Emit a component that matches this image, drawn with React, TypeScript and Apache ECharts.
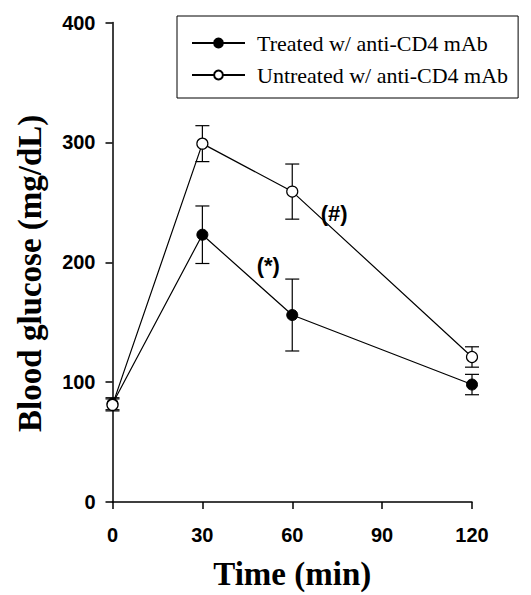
import React, { useEffect, useRef } from "react";
import * as echarts from "echarts";

const timePoints = [0, 30, 60, 120];
const treatedMean = [82, 223, 156, 98];
const treatedErr = [5, 24, 30, 8.5];
const untreatedMean = [81, 299, 259, 121];
const untreatedErr = [5, 15, 23, 8.5];
const seriesNames = ["Treated w/ anti-CD4 mAb", "Untreated w/ anti-CD4 mAb"];
const annotationX = [52, 74];
const annotationY = [197, 241];
const annotationText = ["(*)", "(#)"];
const xTicks = [0, 30, 60, 90, 120];
const yTicks = [0, 100, 200, 300, 400];

const SANS = "'Liberation Sans', Arial, sans-serif";
const SERIF = "'Liberation Serif', 'Times New Roman', serif";

function errData(mean: number[], err: number[]) {
  return timePoints.map((t, i) => [t, mean[i] - err[i], mean[i] + err[i]]);
}

function errorBarSeries(mean: number[], err: number[]) {
  return {
    type: "custom",
    silent: true,
    z: 1,
    data: errData(mean, err),
    renderItem: (params: any, api: any) => {
      const x = api.value(0);
      const lo = api.coord([x, api.value(1)]);
      const hi = api.coord([x, api.value(2)]);
      const w = 7;
      const style = { stroke: "#000", lineWidth: 1.2 };
      return {
        type: "group",
        children: [
          { type: "line", shape: { x1: lo[0], y1: lo[1], x2: hi[0], y2: hi[1] }, style },
          { type: "line", shape: { x1: lo[0] - w, y1: lo[1], x2: lo[0] + w, y2: lo[1] }, style },
          { type: "line", shape: { x1: hi[0] - w, y1: hi[1], x2: hi[0] + w, y2: hi[1] }, style },
        ],
      };
    },
  };
}

export default function App() {
  const ref = useRef<HTMLDivElement>(null);
  useEffect(() => {
    if (!ref.current) return;
    const chart = echarts.init(ref.current, null, { renderer: "svg" });
    const axisLine = { show: true, lineStyle: { color: "#000", width: 1.5 } };
    chart.setOption({
      animation: false,
      backgroundColor: "#fff",
      grid: { left: 112.5, right: 59, top: 22.6, bottom: 85.7, containLabel: false },
      legend: {
        orient: "vertical",
        left: 177,
        top: 16,
        padding: [16, 10, 12, 14],
        itemGap: 10,
        itemWidth: 53,
        itemHeight: 11,
        borderColor: "#000",
        borderWidth: 1,
        data: seriesNames,
        textStyle: {
          fontFamily: SERIF,
          fontSize: 22,
          color: "#000",
          padding: [0, 0, 0, 7],
        },
      },
      xAxis: {
        type: "value",
        min: xTicks[0],
        max: xTicks[xTicks.length - 1],
        interval: 30,
        axisLine,
        axisTick: { show: true, inside: false, length: 7, lineStyle: { color: "#000", width: 1.5 } },
        splitLine: { show: false },
        axisLabel: {
          margin: 23,
          fontFamily: SANS,
          fontWeight: "bold",
          fontSize: 20,
          color: "#000",
        },
        name: "Time (min)",
        nameLocation: "middle",
        nameGap: 55,
        nameTextStyle: { fontFamily: SERIF, fontWeight: "bold", fontSize: 33, color: "#000" },
      },
      yAxis: {
        type: "value",
        min: yTicks[0],
        max: yTicks[yTicks.length - 1],
        interval: 100,
        axisLine,
        axisTick: { show: true, inside: false, length: 7, lineStyle: { color: "#000", width: 1.5 } },
        splitLine: { show: false },
        axisLabel: {
          margin: 17,
          fontFamily: SANS,
          fontWeight: "bold",
          fontSize: 20,
          color: "#000",
        },
        name: "Blood glucose (mg/dL)",
        nameLocation: "middle",
        nameRotate: 90,
        nameGap: 66,
        nameTextStyle: {
          fontFamily: SERIF,
          fontWeight: "bold",
          fontSize: 33,
          color: "#000",
          padding: [0, 22, 0, 0],
        },
      },
      series: [
        errorBarSeries(treatedMean, treatedErr),
        errorBarSeries(untreatedMean, untreatedErr),
        {
          name: seriesNames[0],
          type: "line",
          z: 3,
          data: timePoints.map((t, i) => [t, treatedMean[i]]),
          symbol: "circle",
          symbolSize: 11,
          lineStyle: { color: "#000", width: 1.2 },
          itemStyle: { color: "#000", borderColor: "#000", borderWidth: 1 },
        },
        {
          name: seriesNames[1],
          type: "line",
          z: 4,
          data: timePoints.map((t, i) => [t, untreatedMean[i]]),
          symbol: "circle",
          symbolSize: 11,
          lineStyle: { color: "#000", width: 1.2 },
          itemStyle: { color: "#fff", borderColor: "#000", borderWidth: 1.2 },
        },
        {
          type: "custom",
          silent: true,
          z: 5,
          data: annotationX.map((x, i) => [x, annotationY[i], i]),
          renderItem: (params: any, api: any) => {
            const p = api.coord([api.value(0), api.value(1)]);
            return {
              type: "text",
              x: p[0],
              y: p[1],
              style: {
                text: annotationText[api.value(2)],
                fill: "#000",
                font: `bold 22px ${SANS}`,
                align: "center",
                verticalAlign: "middle",
              },
            };
          },
        },
      ],
    });
    return () => chart.dispose();
  }, []);
  return <div ref={ref} style={{ width: 531, height: 595, position: "absolute", left: 0, top: 0 }} />;
}
